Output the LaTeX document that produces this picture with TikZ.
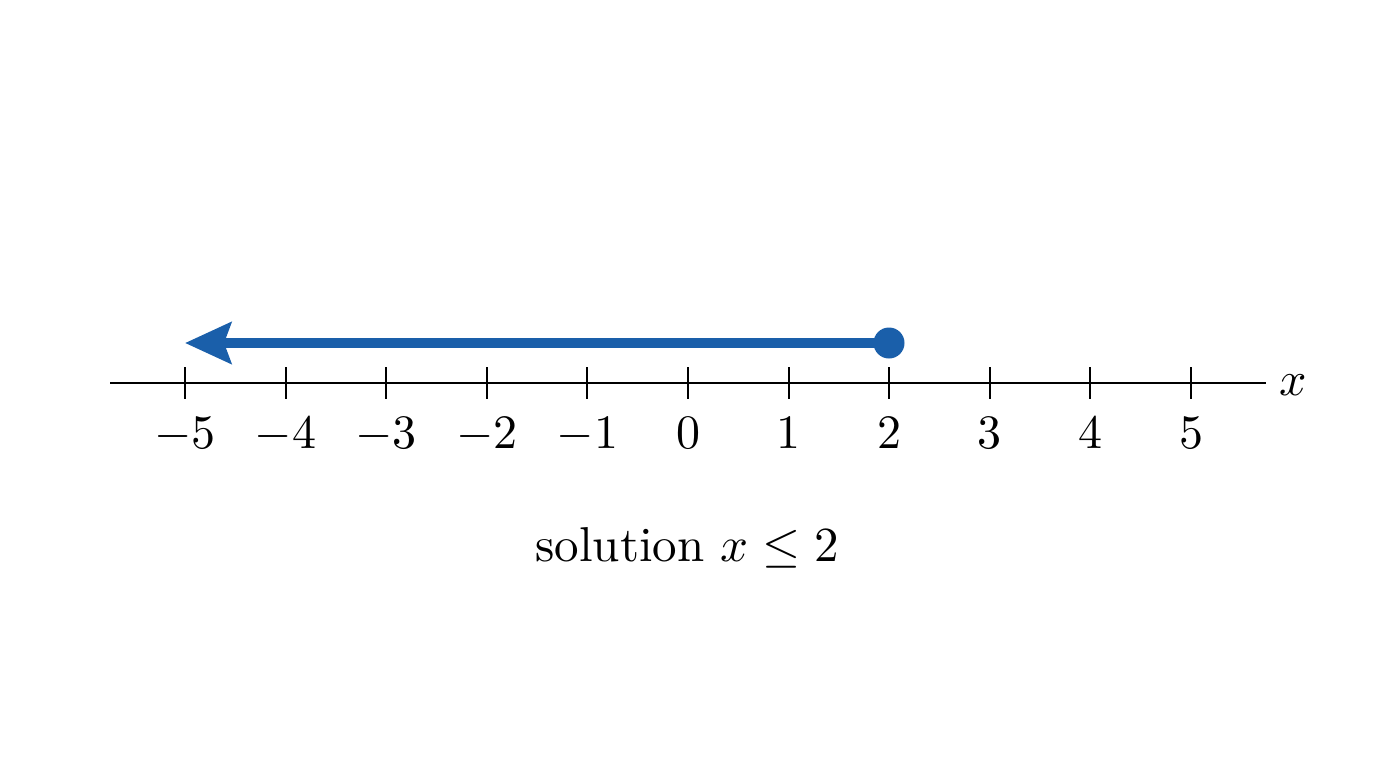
\documentclass[tikz,border=0pt]{standalone}
\usepackage{fontspec}
\setmainfont{lmroman10-regular.otf}
\DeclareFontShape{OML}{cmm}{m}{it}{<->cmmi10}{}
\DeclareFontShape{OMS}{cmsy}{m}{n}{<->cmsy10}{}
\DeclareFontShape{OT1}{cmr}{m}{n}{<->cmr10}{}
\DeclareFontShape{OMX}{cmex}{m}{n}{<->cmex10}{}
\usetikzlibrary{arrows.meta}
\definecolor{solblue}{RGB}{26,95,170}
\begin{document}
\begin{tikzpicture}[x=1pt,y=-1pt,
  lbl/.style={anchor=base,inner sep=0pt,font=\fontsize{48}{58}\selectfont},
  caplbl/.style={anchor=base,inner sep=0pt,font=\fontsize{49}{58}\selectfont},
  axisline/.style={line width=2pt,black},
  tickline/.style={line width=2pt,black}]
\useasboundingbox (0,0) rectangle (1376,768);
\fill[white] (0,0) rectangle (1376,768);
% axis
\coordinate (axl) at (110,383);
\coordinate (axr) at (1266,383);
\draw[axisline] (axl) -- (axr);
\node[lbl] (xl) at (1293,395) {$x$};
% ticks and labels
\foreach \v [count=\i] in {-5,...,5}{
  \pgfmathsetmacro{\px}{688+100.6*\v}
  \draw[tickline] (\px,367) -- (\px,399);
  \ifnum\v<0
    \node[lbl] (t\i) at (\px,448) {$-\the\numexpr-\v\relax$};
  \else
    \node[lbl] (t\i) at (\px,448) {$\v$};
  \fi
}
% solution ray
\coordinate (tip) at (185,343);
\node[circle,fill=solblue,minimum size=31pt,inner sep=0pt] (dot) at (889,343) {};
\draw[solblue,line width=9.5pt,-{Stealth[length=46pt,width=41pt,inset=7pt]}] (dot.center) -- (tip);
% caption
\node[caplbl] (cap) at (687,561) {solution $x \le 2$};
\end{tikzpicture}
\end{document}
